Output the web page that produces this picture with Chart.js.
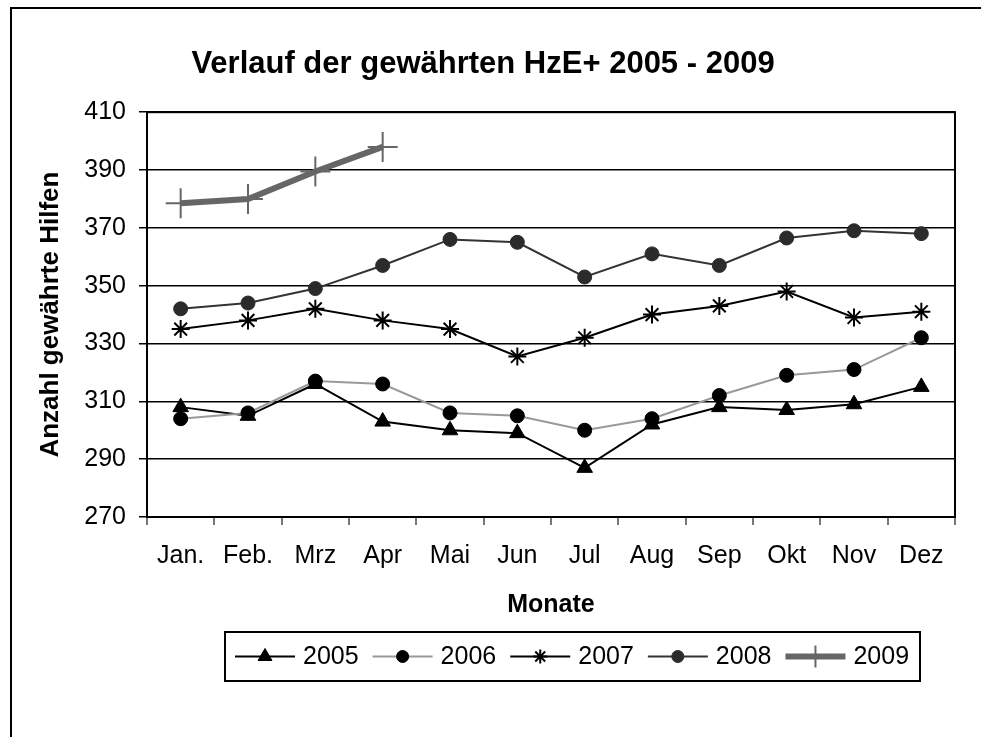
<!DOCTYPE html>
<html>
<head>
<meta charset="utf-8">
<script src="https://cdn.jsdelivr.net/npm/chart.js@4"></script>
<style>
  html, body { margin: 0; padding: 0; background: #fff; }
  #wrap { width: 981px; height: 737px; }
</style>
</head>
<body>
<div id="wrap"><canvas id="hzeChart" width="981" height="737"></canvas></div>
<script>
const months = ['Jan.', 'Feb.', 'Mrz', 'Apr', 'Mai', 'Jun', 'Jul', 'Aug', 'Sep', 'Okt', 'Nov', 'Dez'];
const yTicks = [270, 290, 310, 330, 350, 370, 390, 410];

const v2005 = [308, 305, 316, 303, 300, 299, 287, 302, 308, 307, 309, 315];
const v2006 = [304, 306, 317, 316, 306, 305, 300, 304, 312, 319, 321, 332];
const v2007 = [335, 338, 342, 338, 335, 325.5, 332, 340, 343, 348, 339, 341];
const v2008 = [342, 344, 349, 357, 366, 365, 353, 361, 357, 366.5, 369, 368];
const v2009 = [378.5, 380, 389.5, 398, null, null, null, null, null, null, null, null];

const FONT = "'Liberation Sans', Arial, sans-serif";

// frame around the whole picture (only top and left are visible)
const framePlugin = {
  id: 'frame',
  beforeDraw(chart) {
    const ctx = chart.ctx;
    ctx.save();
    ctx.fillStyle = '#fff';
    ctx.fillRect(0, 0, chart.width, chart.height);
    ctx.strokeStyle = '#000';
    ctx.lineWidth = 2;
    ctx.beginPath();
    ctx.moveTo(11, chart.height + 2);
    ctx.lineTo(11, 8);
    ctx.lineTo(chart.width + 2, 8);
    ctx.stroke();
    ctx.restore();
  },
  beforeDatasetsDraw(chart) {
    const a = chart.chartArea;
    const ctx = chart.ctx;
    ctx.save();
    ctx.strokeStyle = '#000';
    ctx.lineWidth = 2;
    ctx.strokeRect(a.left, a.top, a.right - a.left, a.bottom - a.top);
    ctx.restore();
  }
};

// legend with line + marker, like the spreadsheet one
const lineLegend = {
  id: 'lineLegend',
  afterDraw(chart) {
    const ctx = chart.ctx;
    const boxL = 225, boxR = 920, boxT = 632, boxB = 681;
    const cy = (boxT + boxB) / 2;
    ctx.save();
    ctx.strokeStyle = '#000';
    ctx.lineWidth = 2;
    ctx.strokeRect(boxL, boxT, boxR - boxL, boxB - boxT);
    ctx.font = '25px ' + FONT;
    ctx.textBaseline = 'middle';
    ctx.textAlign = 'left';
    let x = 235;
    chart.data.datasets.forEach(ds => {
      ctx.strokeStyle = ds.borderColor;
      ctx.lineWidth = ds.borderWidth;
      ctx.beginPath();
      ctx.moveTo(x, cy);
      ctx.lineTo(x + 60, cy);
      ctx.stroke();
      ctx.fillStyle = ds.pointBackgroundColor;
      ctx.strokeStyle = ds.pointBorderColor;
      ctx.lineWidth = ds.pointBorderWidth;
      Chart.helpers.drawPoint(ctx, {
        pointStyle: ds.pointStyle,
        radius: ds.legendRadius,
        borderWidth: ds.pointBorderWidth,
        rotation: 0
      }, x + 30, cy);
      ctx.fillStyle = '#000';
      ctx.fillText(ds.label, x + 68, cy + 1);
      x += 60 + 8 + ctx.measureText(ds.label).width + 14;
    });
    ctx.restore();
  }
};

const ctx = document.getElementById('hzeChart').getContext('2d');

new Chart(ctx, {
  type: 'line',
  data: {
    labels: months,
    datasets: [
      {
        label: '2005', data: v2005, order: 5,
        borderColor: '#000', borderWidth: 2,
        pointStyle: 'triangle', pointRadius: 9, legendRadius: 8,
        pointBackgroundColor: '#000', pointBorderColor: '#000', pointBorderWidth: 1
      },
      {
        label: '2006', data: v2006, order: 4,
        borderColor: '#999', borderWidth: 2,
        pointStyle: 'circle', pointRadius: 7, legendRadius: 6,
        pointBackgroundColor: '#000', pointBorderColor: '#000', pointBorderWidth: 1
      },
      {
        label: '2007', data: v2007, order: 3,
        borderColor: '#000', borderWidth: 2,
        pointStyle: 'star', pointRadius: 9, legendRadius: 7,
        pointBackgroundColor: '#000', pointBorderColor: '#000', pointBorderWidth: 2
      },
      {
        label: '2008', data: v2008, order: 2,
        borderColor: '#333', borderWidth: 2,
        pointStyle: 'circle', pointRadius: 7, legendRadius: 6,
        pointBackgroundColor: '#2b2b2b', pointBorderColor: '#2b2b2b', pointBorderWidth: 1
      },
      {
        label: '2009', data: v2009, order: 1,
        borderColor: '#666', borderWidth: 6,
        pointStyle: 'cross', pointRadius: 15, legendRadius: 11,
        pointBackgroundColor: '#666', pointBorderColor: '#666', pointBorderWidth: 2
      }
    ]
  },
  options: {
    responsive: false,
    animation: false,
    events: [],
    layout: { padding: { left: 11, right: 26, top: 0, bottom: 112 } },
    elements: { line: { tension: 0 } },
    plugins: {
      legend: { display: false },
      tooltip: { enabled: false },
      title: {
        display: true,
        text: 'Verlauf der gewährten HzE+ 2005 - 2009',
        color: '#000',
        font: { family: FONT, size: 31, weight: 'bold' },
        padding: { top: 46, bottom: 29 }
      }
    },
    scales: {
      x: {
        offset: true,
        afterFit: s => { s.height = 108; },
        grid: {
          offset: true, drawOnChartArea: false, drawTicks: true,
          tickLength: 8, color: '#777', lineWidth: 2
        },
        border: { display: true, color: '#000', width: 2 },
        ticks: { color: '#000', font: { family: FONT, size: 25 }, padding: 16, maxRotation: 0, autoSkip: false },
        title: {
          display: true, text: 'Monate', color: '#000',
          font: { family: FONT, size: 25, weight: 'bold' },
          padding: { top: 0, bottom: 5 }
        }
      },
      y: {
        min: 270, max: 410,
        afterFit: s => { s.width = 136; },
        afterBuildTicks: s => { s.ticks = yTicks.map(v => ({ value: v })); },
        grid: { color: '#000', lineWidth: 1.5, drawTicks: true, tickLength: 8 },
        border: { display: true, color: '#000', width: 2 },
        ticks: { color: '#000', font: { family: FONT, size: 25 }, padding: 13 },
        title: {
          display: true, text: 'Anzahl gewährte Hilfen', color: '#000',
          font: { family: FONT, size: 26, weight: 'bold' },
          padding: { top: 24, bottom: 0 }
        }
      }
    }
  },
  plugins: [framePlugin, lineLegend]
});
</script>
</body>
</html>
